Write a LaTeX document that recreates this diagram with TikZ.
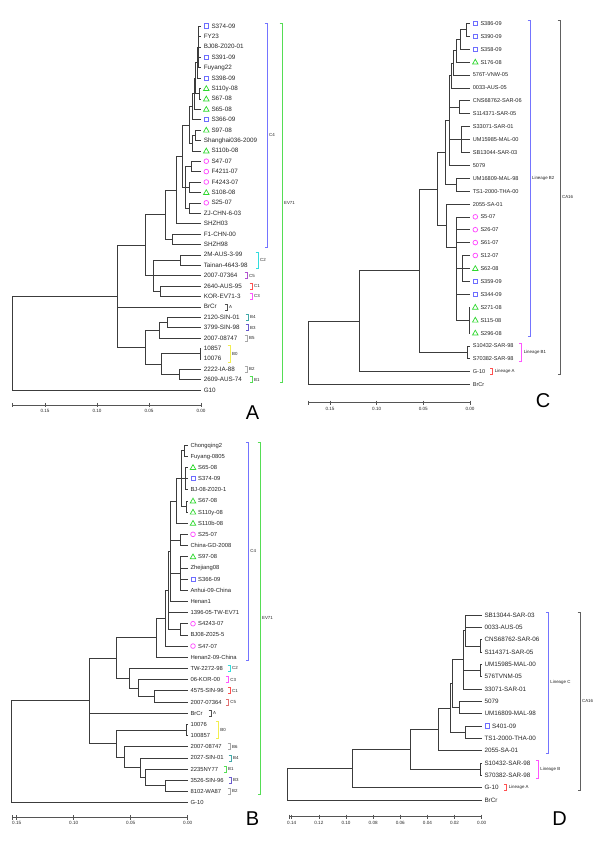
\documentclass[tikz,border=0pt]{standalone}
\usepackage{fontspec}
\setmainfont{Liberation Sans}
\usetikzlibrary{shapes.geometric}
\definecolor{Branch}{HTML}{3C3C3C}
\definecolor{SqBlue}{HTML}{6E6EFF}
\definecolor{TriGreen}{HTML}{2ED82E}
\definecolor{CircMag}{HTML}{FF45FF}
\definecolor{LinBlue}{HTML}{7474FF}
\definecolor{EvGreen}{HTML}{55DD55}
\definecolor{CladeCyan}{HTML}{33DDDD}
\definecolor{CladePurple}{HTML}{B050D0}
\definecolor{CladeRose}{HTML}{E07070}
\definecolor{CladeRed}{HTML}{FF5050}
\definecolor{CladeMag}{HTML}{FF55FF}
\definecolor{LinMag}{HTML}{FF55FF}
\definecolor{CladeDark}{HTML}{505050}
\definecolor{CladeTeal}{HTML}{40A8A8}
\definecolor{CladeViolet}{HTML}{6A5ACD}
\definecolor{CladeLight}{HTML}{A8A8A8}
\definecolor{CladeYellow}{HTML}{F2EE50}
\definecolor{CaGray}{HTML}{606060}
\definecolor{AxisGray}{HTML}{555555}
\newcommand\joinup[2]{\foreach \kid in {#2}{\draw[branch] (#1) |- (\kid);}}
\newcommand\cladebar[6]{%
  \draw[#5,line width=0.6pt] ({#2-2.3},#3) -- (#2,#3) -- (#2,#4) -- ({#2-2.3},#4);
  \node[cladelab] (#1) at ({#2+1.9},{(#3+#4)/2}) {#6};}
\tikzset{
  branch/.style={draw=Branch,line width=0.5pt},
  leaf/.style={anchor=west,inner sep=0pt,text height=4.2pt,text depth=0pt,text=black!85},
  txt n/.style={},
  txt s/.style={xshift=7.7pt},
  txt t/.style={xshift=7.7pt},
  txt c/.style={xshift=7.7pt},
  sym n/.style={inner sep=0pt,minimum size=0pt},
  sym s/.style={draw=SqBlue,rectangle,minimum size=4.3pt,inner sep=0pt,line width=0.7pt},
  sym t/.style={draw=TriGreen,regular polygon,regular polygon sides=3,minimum size=6.4pt,
    inner sep=0pt,line width=0.7pt,yshift=-0.5pt},
  sym c/.style={draw=CircMag,circle,minimum size=4.7pt,inner sep=0pt,line width=0.7pt},
  cladelab/.style={anchor=west,inner sep=0pt,font=\fontsize{4.4}{5}\selectfont,text=black!85},
  ticklab/.style={anchor=north,inner sep=0pt,font=\fontsize{4.6}{5}\selectfont,text=black!85},
  axisline/.style={draw=AxisGray,line width=0.5pt},
  panel/.style={inner sep=0pt,font=\fontsize{20}{20}\selectfont}
}

\begin{document}
\begin{tikzpicture}[x=1pt,y=-1pt]
  \fill[white] (0,0) rectangle (600,843);
  \useasboundingbox (0,0) rectangle (600,843);

  % ---- panel A
  \foreach \lab/\mk [count=\i] in {S374-09/s,FY23/n,BJ08-Z020-01/n,S391-09/s,Fuyang22/n,
      S398-09/s,S110y-08/t,S67-08/t,S65-08/t,S366-09/s,S97-08/t,Shanghai036-2009/n,
      S110b-08/t,S47-07/c,F4211-07/c,F4243-07/c,S108-08/t,S25-07/c,ZJ-CHN-6-03/n,
      SHZH03/n,F1-CHN-00/n,SHZH98/n,2M-AUS-3-99/n,Tainan-4643-98/n,2007-07364/n,
      2640-AUS-95/n,KOR-EV71-3/n,BrCr/n,2120-SIN-01/n,3799-SIN-98/n,2007-08747/n,
      10857/n,10076/n,2222-IA-88/n,2609-AUS-74/n,G10/n}
  {
    \coordinate (A\i) at (201,{26+10.4*(\i-1)});
    \node[sym \mk] (Am\i) at ([xshift=5.3pt]A\i) {};
    \node[leaf,txt \mk,font=\fontsize{6.3}{7}\selectfont] (Al\i) at ([xshift=2.6pt]A\i) {\lab};
  }
  \coordinate (a1) at (198.5,46.8);   \joinup{a1}{A1,A2,A3,A4,A5}
  \coordinate (a2) at (197,62.4);     \joinup{a2}{a1,A6}
  \coordinate (a3) at (199.5,93.6);   \joinup{a3}{A7,A8}
  \coordinate (a4) at (195,78);       \joinup{a4}{a2,a3}
  \coordinate (a5) at (194,93.6);     \joinup{a5}{a4,A9}
  \coordinate (a6) at (192.5,106.6);  \joinup{a6}{a5,A10}
  \coordinate (a7) at (195.5,135.2);  \joinup{a7}{A11,A12}
  \coordinate (a8) at (192,143);      \joinup{a8}{a7,A13}
  \coordinate (a9) at (189,124.8);    \joinup{a9}{a6,a8}
  \coordinate (a10) at (191,166.4);   \joinup{a10}{A14,A15}
  \coordinate (a11) at (189,187.2);   \joinup{a11}{A16,A17}
  \coordinate (a12) at (189,208);     \joinup{a12}{A18,A19}
  \coordinate (a13) at (185,187.2);   \joinup{a13}{a10,a11,a12}
  \coordinate (a14) at (182.5,156);   \joinup{a14}{a9,a13}
  \coordinate (a15) at (176,189.8);   \joinup{a15}{a14,A20}
  \coordinate (a16) at (172.7,239.2); \joinup{a16}{A21,A22}
  \coordinate (a17) at (165.7,214.5); \joinup{a17}{a15,a16}
  \coordinate (a18) at (180,260);     \joinup{a18}{A23,A24}
  \coordinate (a19) at (160.7,291.2); \joinup{a19}{A26,A27}
  \coordinate (a20) at (153,275.6);   \joinup{a20}{a18,a19}
  \coordinate (a21) at (145,245.1);   \joinup{a21}{a17,A25,a20}
  \coordinate (a22) at (167,322.4);   \joinup{a22}{A29,A30}
  \coordinate (a23) at (159,330.2);   \joinup{a23}{a22,A31}
  \coordinate (a24) at (200,353.6);   \joinup{a24}{A32,A33}
  \coordinate (a25) at (179,374.4);   \joinup{a25}{A34,A35}
  \coordinate (a26) at (161,364);     \joinup{a26}{a24,a25}
  \coordinate (a27) at (145,347.1);   \joinup{a27}{a23,a26}
  \coordinate (a28) at (117,296.1);   \joinup{a28}{a21,A28,a27}
  \coordinate (aR) at (12,343);       \joinup{aR}{a28,A36}
  \cladebar{kA-C4}{267}{23}{247.4}{LinBlue}{C4}
  \cladebar{kA-EV}{282}{23}{382.6}{EvGreen}{EV71}
  \cladebar{kA-C2}{258}{252}{268}{CladeCyan}{C2}
  \cladebar{kA-C5}{247}{272.6}{278.6}{CladePurple}{C5}
  \cladebar{kA-C1}{252}{283}{289}{CladeRed}{C1}
  \cladebar{kA-C3}{252}{293.4}{299.4}{CladeMag}{C3}
  \cladebar{kA-A}{227}{303.8}{309.8}{CladeDark}{A}
  \cladebar{kA-B4}{248}{314.2}{320.2}{CladeTeal}{B4}
  \cladebar{kA-B3}{248}{324.6}{330.6}{CladeViolet}{B3}
  \cladebar{kA-B5}{247}{335}{341}{CladeLight}{B5}
  \cladebar{kA-B0}{230}{345.4}{361.8}{CladeYellow}{B0}
  \cladebar{kA-B2}{247}{366.2}{372.2}{CladeLight}{B2}
  \cladebar{kA-B1}{252}{376.6}{382.6}{EvGreen}{B1}
  \draw[axisline] (12,402.8) -- (12,407.2) (12,405) -- (201,405);
  \foreach \x/\t [count=\k] in {201/0.00,149/0.05,97/0.10,45/0.15}{
    \draw[axisline] (\x,402.8) -- (\x,407.2);
    \node[ticklab] (tA\k) at (\x,409) {\t};
  }
  \node[panel] (pA) at (252.5,413) {A};

  % ---- panel C
  \foreach \lab/\mk [count=\i] in {S386-09/s,S390-09/s,S358-09/s,S176-08/t,576T-VNW-05/n,
      0033-AUS-05/n,CNS68762-SAR-06/n,S114371-SAR-05/n,S33071-SAR-01/n,UM15985-MAL-00/n,
      SB13044-SAR-03/n,5079/n,UM16809-MAL-98/n,TS1-2000-THA-00/n,2055-SA-01/n,
      S5-07/c,S26-07/c,S61-07/c,S12-07/c,S62-08/t,S359-09/s,S344-09/s,S271-08/t,
      S115-08/t,S296-08/t,S10432-SAR-98/n,S70382-SAR-98/n,G-10/n,BrCr/n}
  {
    \coordinate (C\i) at (470,{23.3+12.9*(\i-1)});
    \node[sym \mk] (Cm\i) at ([xshift=5.3pt]C\i) {};
    \node[leaf,txt \mk,font=\fontsize{5.6}{6.5}\selectfont] (Cl\i) at ([xshift=2.6pt]C\i) {\lab};
  }
  \coordinate (c1) at (466,29.75);    \joinup{c1}{C1,C2}
  \coordinate (c2) at (460,39.4);     \joinup{c2}{c1,C3}
  \coordinate (c3) at (456.7,50.7);   \joinup{c3}{c2,C4}
  \coordinate (c4) at (453.3,62.8);   \joinup{c4}{c3,C5}
  \coordinate (c5) at (451.7,75.3);   \joinup{c5}{c4,C6}
  \coordinate (c6) at (459.3,107.15); \joinup{c6}{C7,C8}
  \coordinate (c7) at (461.7,139.4);  \joinup{c7}{C9,C10,C11}
  \coordinate (c8) at (449.3,120.2);  \joinup{c8}{c5,c6,c7,C12}
  \coordinate (c9) at (456,184.55);   \joinup{c9}{C13,C14}
  \coordinate (c10) at (445.7,152.4); \joinup{c10}{c8,c9}
  \coordinate (c11) at (462,268.4);   \joinup{c11}{C19,C20,C21}
  \coordinate (c12) at (469,320);     \joinup{c12}{C23,C24,C25}
  \coordinate (c13) at (456.7,247);   \joinup{c13}{C16,C17,C18,c11,C22,c12}
  \coordinate (c14) at (446.7,225.5); \joinup{c14}{C15,c13}
  \coordinate (c15) at (437.7,189);   \joinup{c15}{c10,c14}
  \coordinate (c16) at (467.3,352.25);\joinup{c16}{C26,C27}
  \coordinate (c17) at (419.3,270.6); \joinup{c17}{c15,c16}
  \coordinate (c18) at (359.3,321.1); \joinup{c18}{c17,C28}
  \coordinate (cR) at (308.3,352.8);  \joinup{cR}{c18,C29}
  \cladebar{kC-B2}{530}{20.3}{335.9}{LinBlue}{Lineage B2}
  \cladebar{kC-CA}{560}{20.3}{374.6}{CaGray}{CA16}
  \cladebar{kC-B1}{521.7}{342.8}{361.7}{LinMag}{Lineage B1}
  \cladebar{kC-A}{492.7}{368.6}{374.6}{CladeRed}{Lineage A}
  \draw[axisline] (308.3,400.5) -- (308.3,404.9) (308.3,402.7) -- (470,402.7);
  \foreach \x/\t [count=\k] in {470/0.00,423.3/0.05,376.7/0.10,330/0.15}{
    \draw[axisline] (\x,400.5) -- (\x,404.9);
    \node[ticklab] (tC\k) at (\x,406.7) {\t};
  }
  \node[panel] (pC) at (543,401) {C};

  % ---- panel B
  \foreach \lab/\mk [count=\i] in {Chongqing2/n,Fuyang-0805/n,S65-08/t,S374-09/s,
      BJ-08-Z020-1/n,S67-08/t,S110y-08/t,S110b-08/t,S25-07/c,China-GD-2008/n,S97-08/t,
      Zhejiang08/n,S366-09/s,Anhui-09-China/n,Henan1/n,1396-05-TW-EV71/n,S4243-07/c,
      BJ08-Z025-5/n,S47-07/c,Henan2-09-China/n,TW-2272-98/n,06-KOR-00/n,4575-SIN-96/n,
      2007-07364/n,BrCr/n,10076/n,100857/n,2007-08747/n,2027-SIN-01/n,2235NY77/n,
      3526-SIN-96/n,8102-WA87/n,G-10/n}
  {
    \coordinate (B\i) at (187.7,{445+11.17*(\i-1)});
    \node[sym \mk] (Bm\i) at ([xshift=5.3pt]B\i) {};
    \node[leaf,txt \mk,font=\fontsize{5.85}{6.5}\selectfont] (Bl\i) at ([xshift=2.6pt]B\i) {\lab};
  }
  \coordinate (b1) at (184.5,450.6);  \joinup{b1}{B1,B2}
  \coordinate (b2) at (185.5,478.5);  \joinup{b2}{B3,B4,B5}
  \coordinate (b3) at (186.5,506.4);  \joinup{b3}{B6,B7}
  \coordinate (b4) at (181.5,478.5);  \joinup{b4}{b1,b2,b3}
  \coordinate (b5) at (176,500.8);    \joinup{b5}{b4,B8}
  \coordinate (b6) at (180,539.9);    \joinup{b6}{B9,B10}
  \coordinate (b7) at (180,573.5);    \joinup{b7}{B11,B12,B13,B14}
  \coordinate (b8) at (170.7,551.1);  \joinup{b8}{b5,b6,b7,B15}
  \coordinate (b9p) at (180,629.3);   \joinup{b9p}{B17,B18}
  \coordinate (b9) at (168.3,590.2);  \joinup{b9}{b8,B16,b9p}
  \coordinate (b10) at (165.7,618.1); \joinup{b10}{b9,B19}
  \coordinate (b11) at (156.7,637.7); \joinup{b11}{b10,B20}
  \coordinate (b12) at (154.3,696.3); \joinup{b12}{B23,B24}
  \coordinate (b13) at (138.3,687.9); \joinup{b13}{B22,b12}
  \coordinate (b14) at (129,678.2);   \joinup{b14}{B21,b13}
  \coordinate (b15) at (116.7,657.9); \joinup{b15}{b11,b14}
  \coordinate (b16) at (186.7,729.8); \joinup{b16}{B26,B27}
  \coordinate (b17) at (165.7,785.7); \joinup{b17}{B31,B32}
  \coordinate (b18) at (145,777.3);   \joinup{b18}{B30,b17}
  \coordinate (b19) at (140,767.5);   \joinup{b19}{B29,b18}
  \coordinate (b20) at (124,757.1);   \joinup{b20}{B28,b19}
  \coordinate (b21) at (116,743.4);   \joinup{b21}{b16,b20}
  \coordinate (b22) at (89.3,700.7);  \joinup{b22}{b15,B25,b21}
  \coordinate (bR) at (11.7,751.6);   \joinup{bR}{b22,B33}
  \cladebar{kB-C4}{248.3}{442}{660.2}{LinBlue}{C4}
  \cladebar{kB-EV}{260}{442}{794.3}{EvGreen}{EV71}
  \cladebar{kB-C2}{230}{665.4}{671.4}{CladeCyan}{C2}
  \cladebar{kB-C3}{228.3}{676.6}{682.6}{CladeMag}{C3}
  \cladebar{kB-C1}{230}{687.7}{693.7}{CladeRed}{C1}
  \cladebar{kB-C5}{228.3}{698.9}{704.9}{CladeRose}{C5}
  \cladebar{kB-A}{211}{710.1}{716.1}{CladeDark}{A}
  \cladebar{kB-B0}{218.3}{721.3}{738.4}{CladeYellow}{B0}
  \cladebar{kB-B6}{230}{743.6}{749.6}{CladeLight}{B6}
  \cladebar{kB-B4}{231}{754.8}{760.8}{CladeTeal}{B4}
  \cladebar{kB-B1}{226}{765.9}{771.9}{EvGreen}{B1}
  \cladebar{kB-B3}{231}{777.1}{783.1}{CladeViolet}{B3}
  \cladebar{kB-B2}{230}{788.3}{794.3}{CladeLight}{B2}
  \draw[axisline] (12,815.1) -- (12,819.5) (12,817.3) -- (187.7,817.3);
  \foreach \x/\t [count=\k] in {187.7/0.00,130.7/0.05,73.7/0.10,16.7/0.15}{
    \draw[axisline] (\x,815.1) -- (\x,819.5);
    \node[ticklab] (tB\k) at (\x,821.3) {\t};
  }
  \node[panel] (pB) at (252.5,819) {B};

  % ---- panel D
  \foreach \lab/\mk [count=\i] in {SB13044-SAR-03/n,0033-AUS-05/n,CNS68762-SAR-06/n,
      S114371-SAR-05/n,UM15985-MAL-00/n,576TVNM-05/n,33071-SAR-01/n,5079/n,
      UM16809-MAL-98/n,S401-09/s,TS1-2000-THA-00/n,2055-SA-01/n,S10432-SAR-98/n,
      S70382-SAR-98/n,G-10/n,BrCr/n}
  {
    \coordinate (D\i) at (481.7,{615+12.33*(\i-1)});
    \node[sym \mk] (Dm\i) at ([xshift=5.3pt]D\i) {};
    \node[leaf,txt \mk,font=\fontsize{6.3}{7}\selectfont] (Dl\i) at ([xshift=2.6pt]D\i) {\lab};
  }
  \coordinate (d0) at (480.7,645.8);  \joinup{d0}{D3,D4}
  \coordinate (d1) at (465.7,630.4);  \joinup{d1}{D1,D2,d0}
  \coordinate (d2p) at (480.7,670.5); \joinup{d2p}{D5,D6}
  \coordinate (d2) at (463,659.7);    \joinup{d2}{d1,d2p,D7}
  \coordinate (d3p) at (459,707.5);   \joinup{d3p}{D8,D9}
  \coordinate (d3) at (452.7,683.6);  \joinup{d3}{d2,d3p}
  \coordinate (d4p) at (465.7,732.1); \joinup{d4p}{D10,D11}
  \coordinate (d4) at (450.7,707.9);  \joinup{d4}{d3,d4p}
  \coordinate (d5) at (438.3,729.3);  \joinup{d5}{d4,D12}
  \coordinate (d6p) at (480,769.1);   \joinup{d6p}{D13,D14}
  \coordinate (d6) at (410.7,749.2);  \joinup{d6}{d5,d6p}
  \coordinate (d7) at (352.7,768.4);  \joinup{d7}{d6,D15}
  \coordinate (dR) at (287.3,784.2);  \joinup{dR}{d7,D16}
  \cladebar{kD-C}{548.3}{612}{753.6}{LinBlue}{Lineage C}
  \cladebar{kD-CA}{580}{612}{790.6}{CaGray}{CA16}
  \cladebar{kD-B}{538.3}{760}{778.3}{LinMag}{Lineage B}
  \cladebar{kD-A}{506.7}{784.6}{790.6}{CladeRed}{Lineage A}
  \draw[axisline] (289,814.5) -- (289,818.9) (289,816.7) -- (481.7,816.7);
  \foreach \t [count=\k from 0] in {0.00,0.02,0.04,0.06,0.08,0.10,0.12,0.14}{
    \draw[axisline] ({481.7-27.14*\k},814.5) -- ({481.7-27.14*\k},818.9);
    \node[ticklab] (tD\k) at ({481.7-27.14*\k},820.7) {\t};
  }
  \node[panel] (pD) at (559.7,819) {D};
\end{tikzpicture}
\end{document}
